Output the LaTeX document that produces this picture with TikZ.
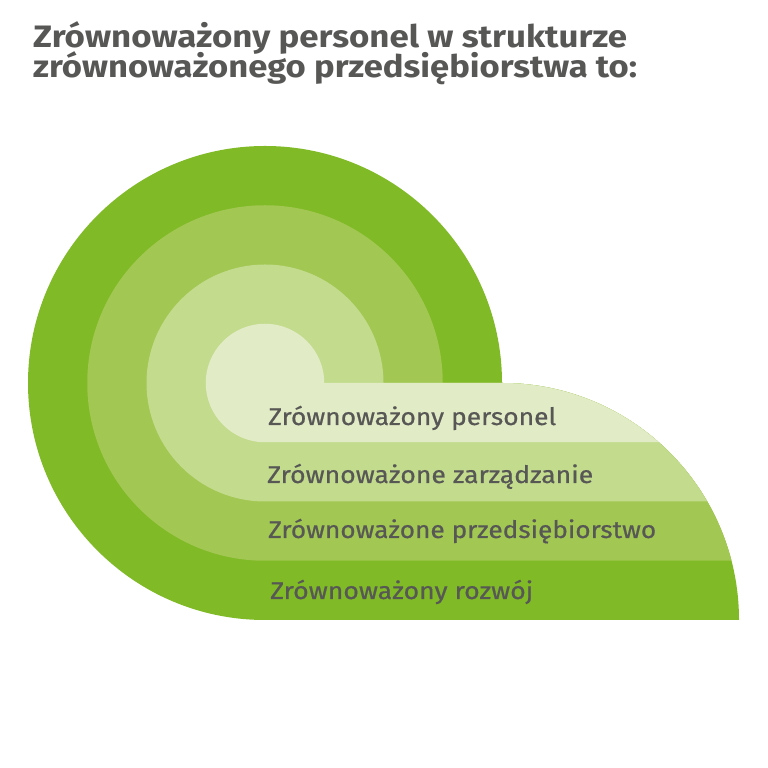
\documentclass[tikz,border=0pt]{standalone}
\usepackage{fontspec}
\setmainfont{Fira Sans}
\newfontfamily\labelfont[FakeBold=0.6]{Fira Sans}
\usepackage{graphicx}
\definecolor{txt}{HTML}{575756}
\definecolor{gA}{HTML}{80BA27}
\definecolor{gB}{HTML}{A2C752}
\definecolor{gC}{HTML}{C3DB8D}
\definecolor{gD}{HTML}{E1EBC5}
\newsavebox\fitbox
\newcommand\fitw[2]{\sbox\fitbox{#2}\pgfmathsetmacro\fitfx{#1/\the\wd\fitbox}\scalebox{\fitfx}[1]{\usebox\fitbox}}
\tikzset{
  titletext/.style={anchor=base west,inner sep=0pt,text=txt,font=\fontsize{31}{31}\selectfont\bfseries},
  bandtext/.style={anchor=base west,inner sep=0pt,text=txt,font=\fontsize{24}{24}\labelfont},
}
\begin{document}
\begin{tikzpicture}[x=1pt,y=1pt]
\useasboundingbox (0,0) rectangle (768,768);
\fill[white] (0,0) rectangle (768,768);
% layers: center (265,385), big right arc center (502,148) radius 237
\fill[gA] (502,385) arc[start angle=0,end angle=270,radius=237] -- (739,148)
  arc[start angle=0,end angle=90,radius=237] -- cycle;
\fill[gB] (442.75,385) arc[start angle=0,end angle=270,radius=177.75] -- ({502+237*cos(14.4775)},207.25)
  arc[start angle=14.4775,end angle=90,radius=237] -- cycle;
\fill[gC] (383.5,385) arc[start angle=0,end angle=270,radius=118.5] -- ({502+237*cos(30)},266.5)
  arc[start angle=30,end angle=90,radius=237] -- cycle;
\fill[gD] (324.25,385) arc[start angle=0,end angle=270,radius=59.25] -- ({502+237*cos(48.5904)},325.75)
  arc[start angle=48.5904,end angle=90,radius=237] -- cycle;
% title
\node[titletext] (t1) at (33,720) {\fitw{594}{Zrównoważony personel w strukturze}};
\node[titletext] (t2) at (33,690) {\fitw{604}{zrównoważonego przedsiębiorstwa to:}};
% band labels
\node[bandtext] (l1) at (268,343) {\fitw{288}{Zrównoważony personel}};
\node[bandtext] (l2) at (267,285) {\fitw{326}{Zrównoważone zarządzanie}};
\node[bandtext] (l3) at (268,230) {\fitw{388}{Zrównoważone przedsiębiorstwo}};
\node[bandtext] (l4) at (270,169) {\fitw{263}{Zrównoważony rozwój}};
\end{tikzpicture}
\end{document}
